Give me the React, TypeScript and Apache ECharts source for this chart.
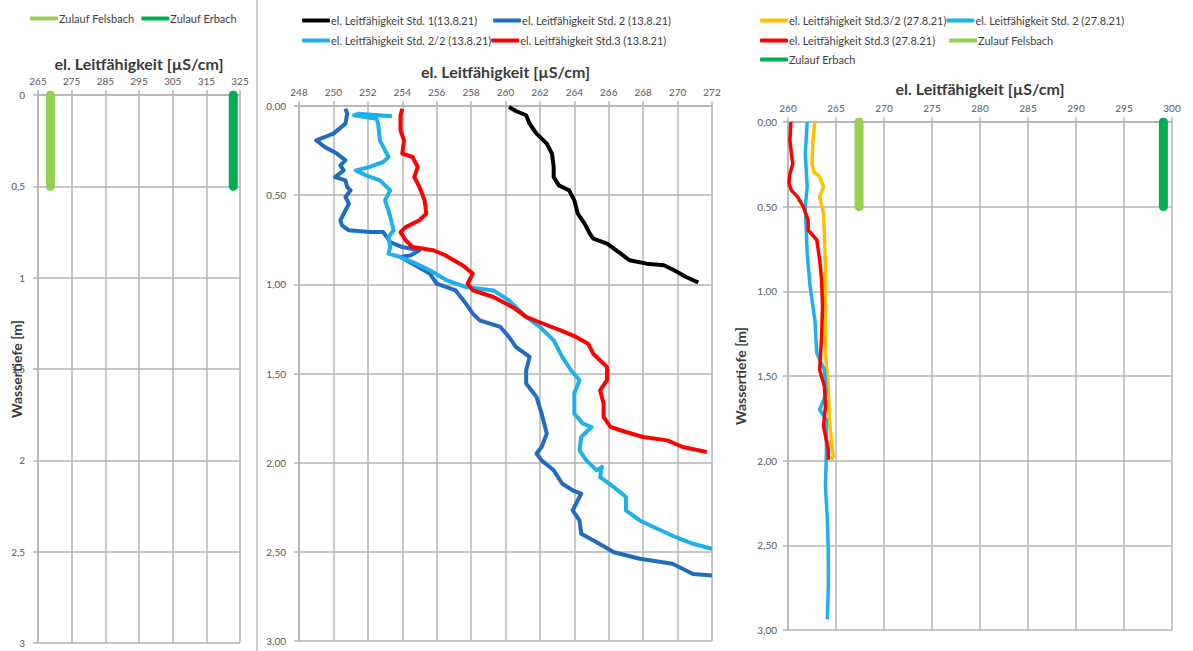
import React, { useEffect, useRef } from "react";
import * as echarts from "echarts";

// ---- Panel 1: inflows (Zulauf) ----
const inflowDepth = [0, 0.5];
const felsbachA = [268.7, 268.7];
const erbachA = [323.0, 323.0];

// ---- Panel 2: profiles of 13.8.21 ----
const std1Depth = [0.006, 0.028, 0.052, 0.099, 0.155, 0.211, 0.267, 0.342, 0.398, 0.445, 0.473, 0.529, 0.604, 0.66, 0.716, 0.744, 0.772, 0.828, 0.865, 0.884, 0.893, 0.921, 0.959, 0.99];
const std1Value = [260.2, 260.6, 261.2, 261.4, 261.8, 262.4, 262.7, 262.8, 262.8, 263.1, 263.7, 264.0, 264.2, 264.6, 264.9, 265.1, 265.9, 266.7, 267.2, 268.2, 269.2, 269.8, 270.5, 271.2];

const std2Depth = [0.015, 0.043, 0.099, 0.155, 0.193, 0.23, 0.267, 0.305, 0.333, 0.361, 0.398, 0.417, 0.454, 0.473, 0.51, 0.548, 0.604, 0.641, 0.669, 0.697, 0.707, 0.707, 0.735, 0.763, 0.791, 0.809, 0.837, 0.847, 0.884, 0.94, 0.996, 1.034, 1.108, 1.164, 1.202, 1.239, 1.295, 1.351, 1.407, 1.482, 1.556, 1.631, 1.725, 1.837, 1.912, 1.949, 1.987, 2.043, 2.118, 2.155, 2.174, 2.212, 2.268, 2.324, 2.399, 2.446, 2.502, 2.539, 2.567, 2.624, 2.633];
const std2Value = [250.7, 250.8, 250.7, 250.0, 249.0, 249.5, 250.2, 250.7, 250.4, 250.6, 250.1, 250.7, 250.8, 251.0, 250.7, 250.9, 250.6, 250.4, 250.5, 250.9, 252.1, 252.9, 253.1, 253.3, 254.0, 255.0, 254.5, 253.9, 254.6, 255.6, 256.0, 257.1, 257.7, 258.1, 258.5, 259.7, 260.2, 260.6, 261.4, 261.2, 261.2, 261.8, 262.1, 262.4, 262.1, 261.8, 262.1, 262.8, 263.3, 263.9, 264.4, 264.2, 263.9, 264.3, 264.4, 265.3, 266.3, 267.8, 269.7, 270.9, 272.0];

const std22Depth = [0.058, 0.043, 0.052, 0.071, 0.099, 0.193, 0.249, 0.286, 0.314, 0.342, 0.361, 0.389, 0.417, 0.473, 0.529, 0.585, 0.66, 0.697, 0.735, 0.791, 0.828, 0.847, 0.884, 0.921, 0.978, 1.015, 1.034, 1.09, 1.183, 1.239, 1.314, 1.407, 1.482, 1.537, 1.612, 1.725, 1.781, 1.8, 1.856, 1.931, 1.987, 2.043, 2.024, 2.081, 2.137, 2.193, 2.268, 2.324, 2.361, 2.418, 2.455, 2.483];
const std22Value = [253.4, 251.5, 251.2, 252.5, 252.6, 252.7, 253.0, 253.2, 252.9, 252.1, 251.3, 251.9, 252.7, 253.3, 253.0, 253.2, 253.4, 253.5, 253.2, 253.3, 253.2, 253.9, 254.8, 255.6, 256.6, 257.7, 259.3, 260.2, 261.2, 262.0, 262.8, 263.3, 263.8, 264.3, 264.0, 264.0, 264.5, 265.0, 264.4, 264.3, 264.7, 265.3, 265.6, 265.5, 266.3, 267.0, 267.0, 267.8, 268.6, 269.9, 270.9, 272.0];

const std3Depth = [0.015, 0.052, 0.136, 0.193, 0.267, 0.286, 0.342, 0.398, 0.454, 0.529, 0.604, 0.641, 0.679, 0.707, 0.753, 0.791, 0.809, 0.837, 0.865, 0.893, 0.94, 0.996, 1.034, 1.071, 1.127, 1.183, 1.221, 1.258, 1.295, 1.333, 1.389, 1.464, 1.481, 1.537, 1.594, 1.669, 1.743, 1.8, 1.828, 1.856, 1.875, 1.912, 1.94];
const std3Value = [254.0, 253.9, 253.9, 254.1, 254.0, 254.6, 254.9, 254.7, 255.0, 255.3, 255.4, 255.0, 254.2, 253.9, 254.2, 254.6, 255.8, 256.5, 257.0, 257.5, 258.1, 257.8, 258.1, 259.3, 260.4, 261.2, 262.2, 263.2, 264.1, 264.8, 265.1, 265.9, 265.9, 265.9, 265.5, 265.7, 265.7, 266.1, 267.0, 268.0, 269.4, 270.3, 271.7];

// ---- Panel 3: profiles of 27.8.21 and inflows ----
const std32bDepth = [0, 0.108, 0.246, 0.295, 0.324, 0.383, 0.442, 0.54, 0.678, 0.874, 1.071, 1.365, 1.562, 1.758, 1.974, 1.994];
const std32bValue = [262.8, 262.6, 262.5, 262.7, 263.3, 263.7, 263.3, 263.7, 263.8, 263.9, 263.9, 263.9, 264.2, 264.3, 264.7, 264.5];

const std2bDepth = [0, 0.187, 0.383, 0.501, 0.776, 0.972, 1.169, 1.365, 1.464, 1.601, 1.699, 1.758, 1.955, 2.151, 2.348, 2.544, 2.741, 2.937];
const std2bValue = [262.0, 261.8, 262.0, 261.8, 262.0, 262.3, 262.8, 263.0, 263.8, 264.0, 263.3, 264.0, 264.0, 263.9, 264.1, 264.2, 264.2, 264.1];

const std3bDepth = [0, 0.108, 0.187, 0.246, 0.305, 0.363, 0.403, 0.442, 0.501, 0.58, 0.639, 0.697, 0.815, 0.933, 1.09, 1.267, 1.464, 1.562, 1.68, 1.798, 1.935, 1.994];
const std3bValue = [260.3, 260.2, 260.35, 260.5, 260.2, 260.1, 260.35, 261.0, 261.6, 262.1, 262.1, 263.0, 263.3, 263.5, 263.6, 263.5, 263.3, 263.8, 263.9, 263.7, 264.2, 264.2];

const felsbachB = [267.4, 267.4];
const erbachB = [299.1, 299.1];

// Axis texts and series names
const xTitle = "el. Leitfähigkeit [µS/cm]";
const yTitle = "Wassertiefe [m]";
const nFels = "Zulauf Felsbach";
const nErb = "Zulauf Erbach";
const nStd1 = "el. Leitfähigkeit Std. 1(13.8.21)";
const nStd2 = "el. Leitfähigkeit Std. 2 (13.8.21)";
const nStd22 = "el. Leitfähigkeit Std. 2/2 (13.8.21)";
const nStd3 = "el. Leitfähigkeit Std.3 (13.8.21)";
const nStd32b = "el. Leitfähigkeit Std.3/2 (27.8.21)";
const nStd2b = "el. Leitfähigkeit Std. 2 (27.8.21)";
const nStd3b = "el. Leitfähigkeit Std.3 (27.8.21)";

const FONT = 'Lato, "Liberation Sans", sans-serif';
const GRID_COLOR = "#b4b4b4";

const zip = (vals: number[], depths: number[]) => vals.map((v, i) => [v, depths[i]]);

function xAxis(gridIndex: number, min: number, max: number, interval: number, nameGap: number) {
  return {
    type: "value",
    gridIndex,
    position: "top",
    min,
    max,
    interval,
    name: xTitle,
    nameLocation: "middle",
    nameGap,
    nameMoveOverlap: false,
    nameTextStyle: { fontFamily: FONT, fontSize: 16, fontWeight: "bold", color: "#3a3a3a" },
    axisLine: { show: true, lineStyle: { color: GRID_COLOR, width: 1.5 } },
    axisTick: { show: true, length: 5, lineStyle: { color: GRID_COLOR, width: 1.5 } },
    axisLabel: { fontFamily: FONT, fontSize: 10, color: "#595959", margin: 9 },
    splitLine: { show: true, lineStyle: { color: GRID_COLOR, width: 1.5 } },
  };
}

function yAxis(gridIndex: number, fmt: (v: number) => string, name: string, nameGap: number, labelMargin: number) {
  return {
    type: "value",
    gridIndex,
    inverse: true,
    min: 0,
    max: 3,
    interval: 0.5,
    name,
    nameLocation: "middle",
    nameRotate: 90,
    nameGap,
    nameMoveOverlap: false,
    nameTextStyle: { fontFamily: FONT, fontSize: 14, fontWeight: "bold", color: "#3a3a3a" },
    axisLine: { show: true, lineStyle: { color: GRID_COLOR, width: 1.5 } },
    axisTick: { show: true, length: 5, lineStyle: { color: GRID_COLOR, width: 1.5 } },
    axisLabel: { fontFamily: FONT, fontSize: 10, color: "#595959", margin: labelMargin, formatter: fmt },
    splitLine: { show: true, lineStyle: { color: GRID_COLOR, width: 1.5 } },
  };
}

function line(name: string, idx: number, color: string, width: number, vals: number[], depths: number[], cap = "butt") {
  return {
    type: "line",
    name,
    xAxisIndex: idx,
    yAxisIndex: idx,
    data: zip(vals, depths),
    showSymbol: false,
    symbol: "none",
    color,
    lineStyle: { color, width, cap, join: "round" },
    clip: true,
  };
}

function legend(left: number, top: number, names: string[], itemGap: number) {
  return {
    left,
    top,
    orient: "horizontal",
    data: names,
    icon: "roundRect",
    itemWidth: 28,
    itemHeight: 4,
    itemGap,
    selectedMode: false,
    textStyle: { fontFamily: FONT, fontSize: 11, color: "#404040", padding: [0, 0, 0, -4] },
  };
}

const C = {
  black: "#000000",
  blue: "#1f6cc0",
  lightBlue: "#1fb0ec",
  red: "#ff0000",
  orange: "#ffc000",
  lightGreen: "#92d050",
  green: "#00b050",
};

const fmtShort = (v: number) => String(v).replace(".", ",");
const fmtLong = (v: number) => v.toFixed(2).replace(".", ",");

const option = {
  animation: false,
  backgroundColor: "#ffffff",
  grid: [
    { left: 38, top: 95, width: 202, height: 548 },
    { left: 299, top: 106, width: 413, height: 535 },
    { left: 788, top: 122, width: 384, height: 508 },
  ],
  xAxis: [xAxis(0, 265, 325, 10, 24), xAxis(1, 248, 272, 2, 27), xAxis(2, 260, 300, 5, 26)],
  yAxis: [
    yAxis(0, fmtShort, yTitle, 15, 13),
    yAxis(1, fmtLong, "", 0, 13),
    yAxis(2, fmtLong, yTitle, 41, 11),
  ],
  legend: [
    legend(25, 8, [nFels, nErb], 7),
    legend(297, 10, [nStd1, nStd2], 16),
    legend(297, 30, [nStd22, nStd3], 0),
    legend(755, 10, [nStd32b, nStd2b], 0),
    legend(755, 30, [nStd3b, nFels], 14),
    legend(755, 49, [nErb], 0),
  ],
  graphic: [
    {
      type: "line",
      shape: { x1: 257, y1: 0, x2: 257, y2: 651 },
      style: { stroke: "#bdbdbd", lineWidth: 1.5 },
    },
  ],
  series: [
    line(nFels, 0, C.lightGreen, 9, felsbachA, inflowDepth, "round"),
    line(nErb, 0, C.green, 9, erbachA, inflowDepth, "round"),

    line(nStd1, 1, C.black, 4, std1Value, std1Depth),
    line(nStd2, 1, C.blue, 4, std2Value, std2Depth),
    line(nStd22, 1, C.lightBlue, 4, std22Value, std22Depth),
    line(nStd3, 1, C.red, 4, std3Value, std3Depth),

    line(nStd32b, 2, C.orange, 3.5, std32bValue, std32bDepth),
    line(nStd2b, 2, C.lightBlue, 3.5, std2bValue, std2bDepth),
    line(nStd3b, 2, C.red, 3.5, std3bValue, std3bDepth),
    line(nFels, 2, C.lightGreen, 9, felsbachB, inflowDepth, "round"),
    line(nErb, 2, C.green, 9, erbachB, inflowDepth, "round"),
  ],
};

export default function App() {
  const ref = useRef<HTMLDivElement>(null);
  useEffect(() => {
    if (!ref.current) return;
    const chart = echarts.init(ref.current, null, { renderer: "svg" });
    chart.setOption(option as any);
    return () => chart.dispose();
  }, []);
  return (
    <div
      ref={ref}
      style={{ position: "fixed", left: 0, top: 0, width: 1193, height: 651, background: "#ffffff" }}
    />
  );
}
